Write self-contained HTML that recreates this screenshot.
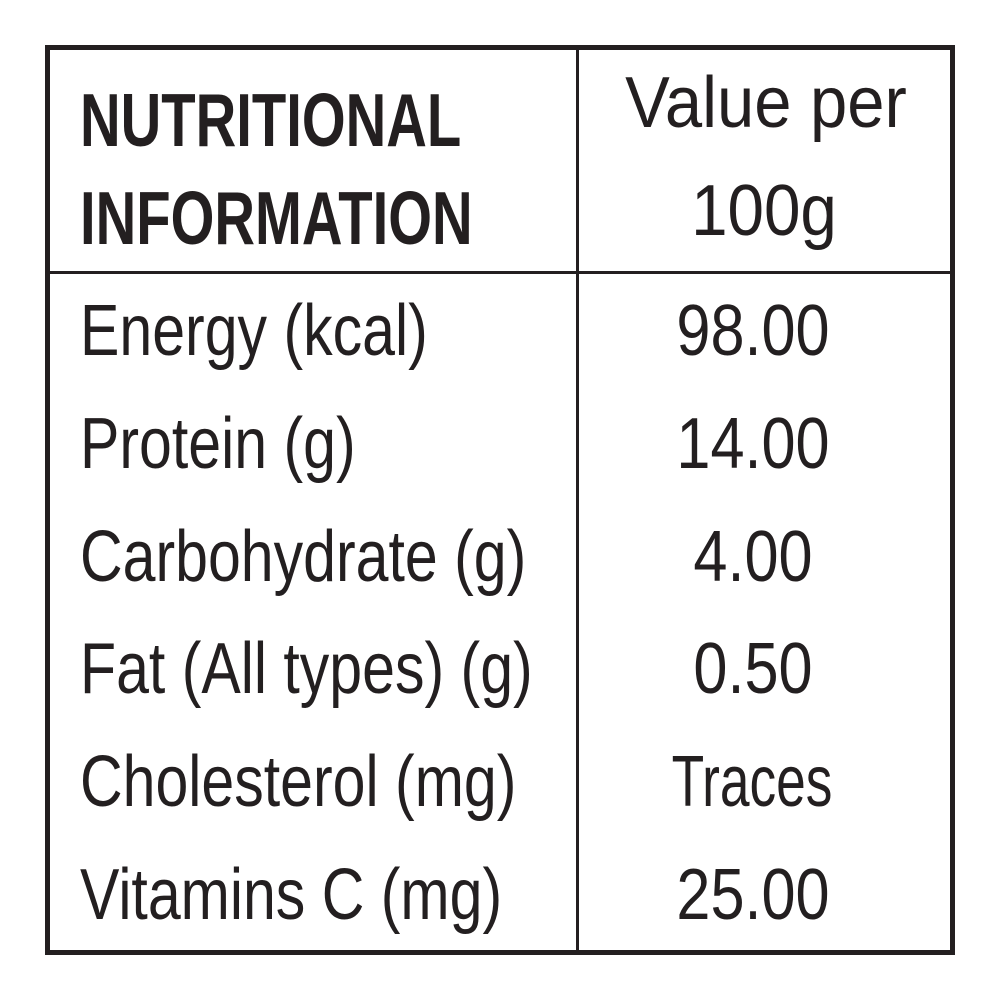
<!DOCTYPE html>
<html><head><style>
body{margin:0;background:#fff;width:1000px;height:1000px;position:relative;overflow:hidden;font-family:"Liberation Sans Narrow","Liberation Sans",sans-serif;color:#231f20}
.b{position:absolute;background:#231f20}
.t{position:absolute;white-space:nowrap;line-height:1;font-size:72px;transform-origin:0 0}
.l{left:80px;transform:scaleX(0.82)}
.c{width:400px;text-align:center;transform-origin:200px 0}
.h{font-weight:bold;font-size:75px;transform:scaleX(0.75)}
</style></head><body>
<div class="b" style="left:45px;top:45px;width:910px;height:5px"></div>
<div class="b" style="left:45px;top:950px;width:910px;height:5px"></div>
<div class="b" style="left:45px;top:45px;width:5px;height:910px"></div>
<div class="b" style="left:950px;top:45px;width:5px;height:910px"></div>
<div class="b" style="left:576px;top:50px;width:3px;height:900px"></div>
<div class="b" style="left:50px;top:271px;width:900px;height:3px"></div>

<div class="t l h" style="top:83px">NUTRITIONAL</div>
<div class="t l h" style="top:181px">INFORMATION</div>
<div class="t c" style="top:67px;left:566px;transform:scaleX(0.93)">Value per</div>
<div class="t c" style="top:175px;left:564px;transform:scaleX(0.91)">100g</div>

<div class="t l" style="top:295px">Energy (kcal)</div>
<div class="t c" style="top:295px;left:553px;transform:scaleX(0.85)">98.00</div>
<div class="t l" style="top:408px">Protein (g)</div>
<div class="t c" style="top:408px;left:553px;transform:scaleX(0.85)">14.00</div>
<div class="t l" style="top:521px">Carbohydrate (g)</div>
<div class="t c" style="top:521px;left:553px;transform:scaleX(0.85)">4.00</div>
<div class="t l" style="top:633px">Fat (All types) (g)</div>
<div class="t c" style="top:633px;left:553px;transform:scaleX(0.85)">0.50</div>
<div class="t l" style="top:746px">Cholesterol (mg)</div>
<div class="t c" style="top:746px;left:552px;transform:scaleX(0.74)">Traces</div>
<div class="t l" style="top:859px">Vitamins C (mg)</div>
<div class="t c" style="top:859px;left:553px;transform:scaleX(0.85)">25.00</div>
</body></html>
